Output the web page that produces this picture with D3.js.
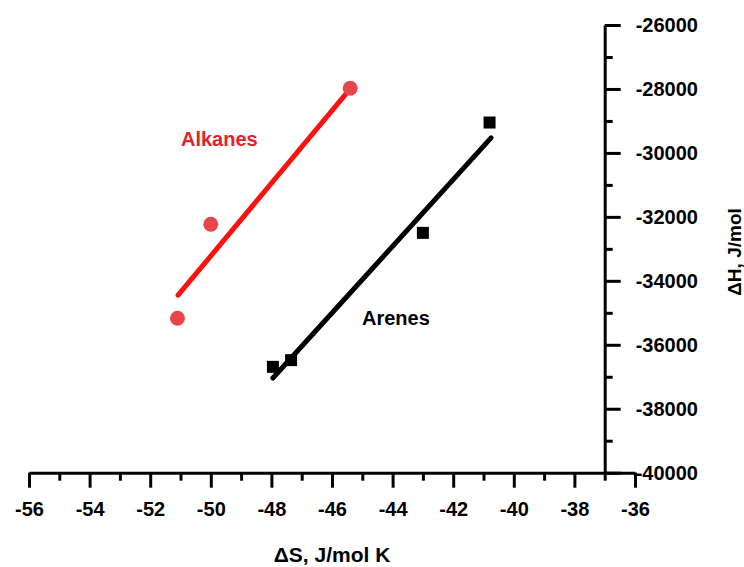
<!DOCTYPE html>
<html>
<head>
<meta charset="utf-8">
<script src="https://cdn.jsdelivr.net/npm/d3@7"></script>
<style>
  body { margin: 0; background: #fff; }
  text { font-family: "Liberation Sans", Arial, sans-serif; font-weight: bold; }
</style>
</head>
<body>
<div class="plot"></div>
<script>
/* data: entropy dS (J/mol K), enthalpy dH (J/mol) */
const alkanes = [
  {s: -45.4, h: -27980},
  {s: -50.0, h: -32230},
  {s: -51.1, h: -35170}
];
const arenes = [
  {s: -40.8, h: -29050},
  {s: -43.0, h: -32500},
  {s: -47.35, h: -36480},
  {s: -47.95, h: -36690}
];
/* fitted lines, end points as drawn */
const alkanesFit = [{s: -51.08, h: -34450}, {s: -45.45, h: -28050}];
const arenesFit = [{s: -47.95, h: -37040}, {s: -40.75, h: -29530}];

const xDomain = [-56, -36];
const yDomain = [-40000, -26000];
const xMajor = d3.range(-56, -35, 2);
const xMinor = d3.range(-55, -36, 2);
const yMajor = d3.range(-40000, -25999, 2000);
const yMinor = d3.range(-39000, -26999, 2000);

const width = 744, height = 567;

const svg = d3.select(".plot").append("svg")
  .attr("width", width)
  .attr("height", height);

/* scales */
const x = d3.scaleLinear().domain(xDomain).range([29, 635]);
const y = d3.scaleLinear().domain(yDomain).range([472.7, 25]);

// plain hyphen minus, like the original
const fmt = d => String(d);

const axisStyle = g => {
  g.selectAll("path, line").attr("stroke", "#000").attr("stroke-width", 3);
  g.selectAll("text").attr("fill", "#000").attr("font-size", 20)
    .attr("font-family", "Liberation Sans, Arial, sans-serif").attr("font-weight", "bold");
};

/* x axis: minor ticks then major ticks with labels */
svg.append("g")
  .attr("transform", `translate(0,${y(-40000)})`)
  .call(d3.axisBottom(x).tickValues(xMinor).tickSize(8).tickFormat(""))
  .call(g => g.select(".domain").remove())
  .call(axisStyle);

svg.append("g")
  .attr("transform", `translate(0,${y(-40000)})`)
  .call(d3.axisBottom(x).tickValues(xMajor).tickSize(15).tickSizeOuter(0).tickPadding(14)
    .tickFormat(fmt))
  .call(axisStyle);

/* y axis on the right at dS = -37 */
svg.append("g")
  .attr("transform", `translate(${x(-37)},0)`)
  .call(d3.axisRight(y).tickValues(yMinor).tickSize(8).tickFormat(""))
  .call(g => g.select(".domain").remove())
  .call(axisStyle);

svg.append("g")
  .attr("transform", `translate(${x(-37)},0)`)
  .call(d3.axisRight(y).tickValues(yMajor).tickSize(16).tickSizeOuter(0).tickPadding(15)
    .tickFormat(fmt))
  .call(axisStyle);

/* axis titles */
svg.append("text")
  .attr("x", 332).attr("y", 562)
  .attr("text-anchor", "middle")
  .attr("font-size", 21)
  .text("\u0394S, J/mol K");

svg.append("text")
  .attr("transform", "translate(741,252) rotate(-90)")
  .attr("text-anchor", "middle")
  .attr("font-size", 19)
  .text("\u0394H, J/mol");

/* fit lines */
const line = d3.line().x(d => x(d.s)).y(d => y(d.h));

svg.append("path")
  .datum(alkanesFit)
  .attr("d", line)
  .attr("fill", "none")
  .attr("stroke", "#ff1010")
  .attr("stroke-width", 5)
  .attr("stroke-linecap", "round");

svg.append("path")
  .datum(arenesFit)
  .attr("d", line)
  .attr("fill", "none")
  .attr("stroke", "#000")
  .attr("stroke-width", 5)
  .attr("stroke-linecap", "round");

/* points */
svg.selectAll(".alk")
  .data(alkanes)
  .join("circle")
  .attr("class", "alk")
  .attr("cx", d => x(d.s))
  .attr("cy", d => y(d.h))
  .attr("r", 7.5)
  .attr("fill", "#e8464a");

const sq = 12;
svg.selectAll(".are")
  .data(arenes)
  .join("rect")
  .attr("class", "are")
  .attr("x", d => x(d.s) - sq / 2)
  .attr("y", d => y(d.h) - sq / 2)
  .attr("width", sq)
  .attr("height", sq)
  .attr("fill", "#000");

/* series labels */
svg.append("text")
  .attr("x", 181).attr("y", 146)
  .attr("font-size", 20)
  .attr("fill", "#e3232a")
  .text("Alkanes");

svg.append("text")
  .attr("x", 362).attr("y", 325)
  .attr("font-size", 20)
  .attr("fill", "#000")
  .text("Arenes");
</script>
</body>
</html>
